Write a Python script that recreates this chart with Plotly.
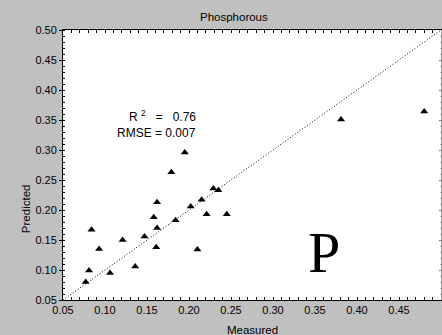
import plotly.graph_objects as go

# Measured vs. predicted phosphorous
measured = [0.077, 0.081, 0.084, 0.093, 0.106, 0.121, 0.136, 0.147, 0.158, 0.161,
            0.162, 0.162, 0.179, 0.184, 0.195, 0.202, 0.210, 0.215, 0.221, 0.229,
            0.235, 0.245, 0.381, 0.480]
predicted = [0.080, 0.099, 0.167, 0.135, 0.095, 0.150, 0.106, 0.156, 0.188, 0.138,
             0.213, 0.170, 0.263, 0.183, 0.296, 0.206, 0.134, 0.217, 0.193, 0.236,
             0.233, 0.193, 0.351, 0.364]

axis_limits = [0.05, 0.50]          # shared range of both axes; also the 1:1 line
r_squared = "0.76"
rmse = "0.007"
element = "P"

FONT = "Liberation Sans, Arial, sans-serif"
BG = "#c0c0c0"

fig = go.Figure()

# 1:1 reference line
fig.add_trace(go.Scatter(
    x=axis_limits, y=axis_limits, mode="lines",
    line=dict(color="black", width=1, dash="1px,2px"),
    hoverinfo="skip", showlegend=False,
))

fig.add_trace(go.Scatter(
    x=measured, y=predicted, mode="markers",
    marker=dict(symbol="triangle-up", size=7, color="black"),
    showlegend=False,
))

# invisible trace that carries the right-hand axis
fig.add_trace(go.Scatter(x=axis_limits, y=axis_limits, yaxis="y2",
                         mode="markers", marker=dict(opacity=0),
                         hoverinfo="skip", showlegend=False))

tick_font = dict(family=FONT, size=11, color="black")
label_font = dict(family=FONT, size=11.5, color="black")

fig.update_layout(
    width=442, height=335,
    margin=dict(l=63, r=1, t=30, b=35),
    paper_bgcolor=BG, plot_bgcolor="white",
    xaxis=dict(
        range=axis_limits, dtick=0.05, tick0=0.05, tickformat=".2f",
        showgrid=False, zeroline=False,
        showline=True, linecolor="black", linewidth=1, mirror="allticks",
        ticks="inside", ticklen=3, tickcolor="black",
        minor=dict(dtick=0.01, ticks="inside", ticklen=2, tickcolor="black"),
        tickfont=tick_font,
    ),
    yaxis=dict(
        range=axis_limits, dtick=0.05, tick0=0.05, tickformat=".2f",
        showgrid=False, zeroline=False,
        showline=True, linecolor="black", linewidth=1,
        ticks="outside", ticklen=3, tickcolor="black",
        minor=dict(dtick=0.01, ticks="inside", ticklen=2, tickcolor="black"),
        tickfont=tick_font,
    ),
    yaxis2=dict(
        range=axis_limits, dtick=0.05, tick0=0.05, overlaying="y", side="right",
        showgrid=False, zeroline=False, showticklabels=False,
        showline=True, linecolor="#9a9a9a", linewidth=1,
        ticks="inside", ticklen=2, tickcolor="#777777",
        minor=dict(dtick=0.01, ticks="inside", ticklen=1, tickcolor="#aaaaaa"),
    ),
    annotations=[
        dict(text="Phosphorous", xref="paper", yref="paper", x=0.452, y=1.049,
             xanchor="center", yanchor="middle", showarrow=False, font=label_font),
        dict(text="Measured", xref="paper", yref="paper", x=0.5026, y=-0.111,
             xanchor="center", yanchor="middle", showarrow=False, font=label_font),
        dict(text="Predicted", xref="paper", yref="paper", x=-0.098, y=0.34,
             xanchor="center", yanchor="middle", textangle=-90, showarrow=False,
             font=label_font),
        dict(text="R <sup>2</sup>   =   " + r_squared, x=0.2107, y=0.3567,
             xanchor="right", yanchor="middle", showarrow=False,
             font=dict(family=FONT, size=12, color="black")),
        dict(text="RMSE = " + rmse, x=0.2107, y=0.3278,
             xanchor="right", yanchor="middle", showarrow=False,
             font=dict(family=FONT, size=12, color="black")),
        dict(text=element, x=0.361, y=0.129, xanchor="center", yanchor="middle",
             showarrow=False,
             font=dict(family="Liberation Serif, Times New Roman, serif",
                       size=58, color="black")),
    ],
)

fig.write_html("out.html")
